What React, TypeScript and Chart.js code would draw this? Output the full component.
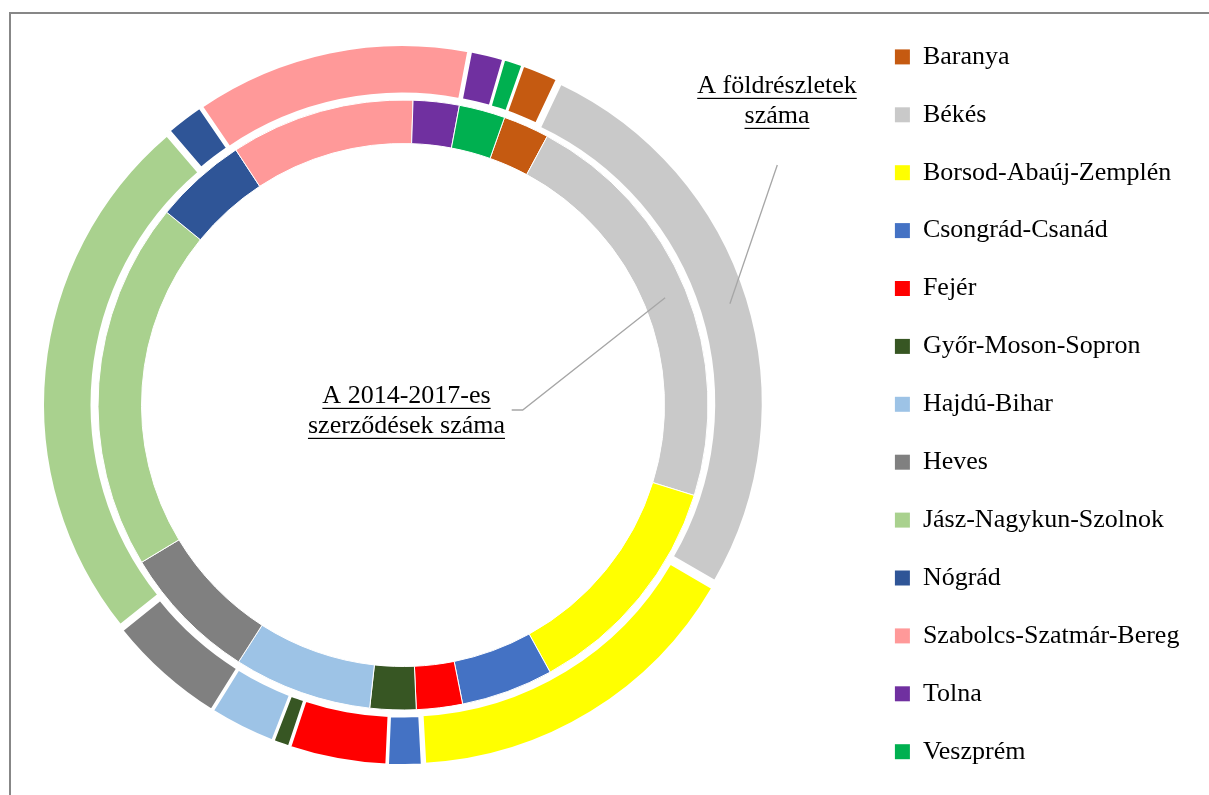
import React, { useEffect, useRef } from 'react';
import { Chart, registerables } from 'chart.js';

Chart.register(...registerables);

// ---- data ----
const counties = [
  'Baranya',
  'Békés',
  'Borsod-Abaúj-Zemplén',
  'Csongrád-Csanád',
  'Fejér',
  'Győr-Moson-Sopron',
  'Hajdú-Bihar',
  'Heves',
  'Jász-Nagykun-Szolnok',
  'Nógrád',
  'Szabolcs-Szatmár-Bereg',
  'Tolna',
  'Veszprém',
];

// outer ring: A földrészletek száma (read as shares of the ring)
const parcelCounts = [5.95, 94.8, 56.7, 5.6, 15.9, 2.75, 10.85, 19.4, 88.1, 6.2, 45.1, 5.46, 3.19];

// inner ring: A 2014-2017-es szerződések száma
const contractCounts = [1, 9, 5, 2, 1, 1, 3, 3, 8, 2, 4, 1, 1];

const countyColors = [
  '#C55A11',
  '#C9C9C9',
  '#FFFF00',
  '#4472C4',
  '#FF0000',
  '#375623',
  '#9DC3E6',
  '#808080',
  '#A9D18E',
  '#2F5597',
  '#FF9999',
  '#7030A0',
  '#00B050',
];

const outerSeriesName = ['A földrészletek', 'száma'];
const innerSeriesName = ['A 2014-2017-es', 'szerződések száma'];

const FONT = "'Liberation Serif', 'Times New Roman', serif";
const EXPLODE = 6.5;

const seriesLabelPlugin = {
  id: 'seriesLabels',
  afterDatasetsDraw(chart: any) {
    const { ctx, chartArea } = chart;
    const cx = (chartArea.left + chartArea.right) / 2;
    const cy = (chartArea.top + chartArea.bottom) / 2;
    const specs = [
      { ds: 0, lines: outerSeriesName, dx: 374, dy: -311.7, lead: [[374.3, -240]] },
      { ds: 1, lines: innerSeriesName, dx: 3.5, dy: -1.7, lead: [[108.7, 5], [119.7, 5]] },
    ];
    ctx.save();
    specs.forEach((s) => {
      const arc = chart.getDatasetMeta(s.ds).data[1];
      const p = arc.getCenterPoint();
      ctx.strokeStyle = '#A6A6A6';
      ctx.lineWidth = 1.3;
      ctx.beginPath();
      s.lead.forEach((pt: number[], i: number) => {
        if (i === 0) ctx.moveTo(cx + pt[0], cy + pt[1]);
        else ctx.lineTo(cx + pt[0], cy + pt[1]);
      });
      ctx.lineTo(p.x, p.y);
      ctx.stroke();

      ctx.font = `26px ${FONT}`;
      ctx.fillStyle = '#000000';
      ctx.textAlign = 'center';
      ctx.textBaseline = 'alphabetic';
      s.lines.forEach((line: string, i: number) => {
        const x = cx + s.dx;
        const y = cy + s.dy + i * 30;
        ctx.fillText(line, x, y);
        const w = ctx.measureText(line).width;
        ctx.fillRect(x - w / 2, y + 4.5, w, 1.2);
      });
    });
    ctx.restore();
  },
};

export default function App() {
  const ref = useRef<HTMLCanvasElement | null>(null);

  useEffect(() => {
    if (!ref.current) return;
    const chart = new Chart(ref.current, {
      type: 'doughnut',
      data: {
        labels: counties,
        datasets: [
          {
            label: 'A földrészletek száma',
            data: parcelCounts,
            backgroundColor: countyColors,
            borderColor: '#FFFFFF',
            borderWidth: 2,
            weight: 48.5,
            offset: (c: any) => {
              if (c.type !== 'data') return 0;
              const vals = c.dataset.data as number[];
              const total = vals.reduce((a, b) => a + b, 0);
              const circ = (vals[c.dataIndex] / total) * 2 * Math.PI;
              const fix = 1 - Math.sin(Math.min(Math.PI, circ));
              return (4 * EXPLODE) / (1 + fix);
            },
          } as any,
          {
            label: 'A 2014-2017-es szerződések száma',
            data: contractCounts,
            backgroundColor: countyColors,
            borderColor: '#FFFFFF',
            borderWidth: 1,
            weight: 43.5,
            offset: 0,
          } as any,
        ],
      },
      options: {
        responsive: false,
        animation: false,
        events: [],
        rotation: 19.45,
        radius: 353.5,
        cutout: '73.97%',
        layout: { padding: { left: 0, top: 12, right: 28, bottom: 0 } },
        plugins: {
          tooltip: { enabled: false },
          legend: {
            position: 'right',
            align: 'start',
            maxWidth: 322,
            labels: {
              boxWidth: 15,
              boxHeight: 15,
              padding: 31.9,
              color: '#000000',
              font: { family: FONT, size: 26 },
              generateLabels: (ch: any) => {
                const items = (Chart as any).overrides.doughnut.plugins.legend.labels.generateLabels(ch);
                return items.map((it: any) => ({ ...it, lineWidth: 0, strokeStyle: 'rgba(0,0,0,0)' }));
              },
            },
          },
        },
      } as any,
      plugins: [seriesLabelPlugin],
    });
    return () => chart.destroy();
  }, []);

  return (
    <div
      style={{
        position: 'fixed',
        left: 0,
        top: 0,
        width: 1209,
        height: 795,
        overflow: 'hidden',
        background: '#FFFFFF',
      }}
    >
      <div
        style={{
          position: 'absolute',
          left: 9,
          top: 12,
          width: 1400,
          height: 1000,
          borderLeft: '2px solid #878787',
          borderTop: '2px solid #878787',
        }}
      />
      <div style={{ position: 'absolute', left: -57, top: 0, width: 1270, height: 798 }}>
        <canvas ref={ref} width={1270} height={798} style={{ width: 1270, height: 798, display: 'block' }} />
      </div>
    </div>
  );
}
